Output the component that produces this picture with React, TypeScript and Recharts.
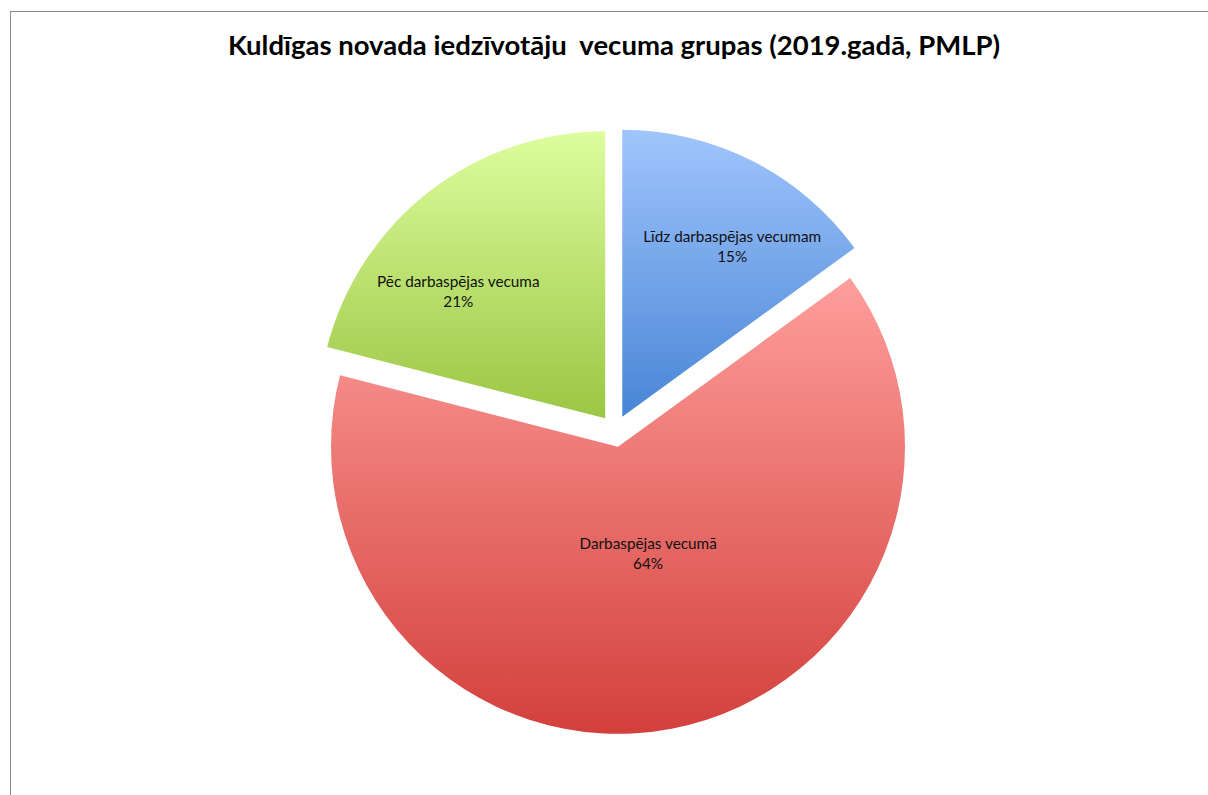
import React from "react";
import { PieChart, Pie, Cell } from "recharts";

// Kuldīgas novada iedzīvotāji pa vecuma grupām, 2019 (PMLP)
const categories = ["Līdz darbaspējas vecumam", "Darbaspējas vecumā", "Pēc darbaspējas vecuma"];
const shares = [15, 64, 21];

const GRADIENTS = [
  { id: "gBlue", top: "#a0c5fc", bottom: "#4885d6" },
  { id: "gRed", top: "#fe9e9b", bottom: "#d3403c" },
  { id: "gGreen", top: "#ddfd9e", bottom: "#9bc643" },
];

// label placement per slice: fraction of radius, angle shift from the slice bisector
const LABEL_POS = [
  { r: 0.705, shift: -5.9 },
  { r: 0.388, shift: 4.9 },
  { r: 0.676, shift: 11.4 },
];

const CX = 615;
const CY = 431;
const R = 287;
const EXPLODE = 16;
const RAD = Math.PI / 180;

const data = categories.map((name, i) => ({ name, value: shares[i] }));
const total = shares.reduce((a, b) => a + b, 0);

// bisector angle of each slice (start at top, clockwise)
const midAngles = shares.map((v, i) => {
  const before = shares.slice(0, i).reduce((a, b) => a + b, 0);
  return 90 - (360 * (before + v / 2)) / total;
});

const FONT = "Lato, 'Open Sans', sans-serif";

export default function App() {
  return (
    <div
      style={{
        position: "absolute",
        left: 0,
        top: 0,
        width: 1208,
        height: 795,
        background: "#fff",
        overflow: "hidden",
      }}
    >
      <div
        style={{
          position: "absolute",
          left: 10,
          top: 11,
          width: 1300,
          height: 900,
          border: "1.5px solid #8c8c8c",
        }}
      />
      <div
        style={{
          position: "absolute",
          left: 0,
          top: 27,
          width: 1228,
          textAlign: "center",
          fontFamily: FONT,
          fontWeight: 700,
          fontSize: 27.5,
          lineHeight: "36px",
          color: "#000",
          whiteSpace: "pre",
        }}
      >
        Kuldīgas novada iedzīvotāju  vecuma grupas (2019.gadā, PMLP)
      </div>
      <div style={{ position: "absolute", left: 0, top: 0 }}>
        <PieChart width={1208} height={795} margin={{ top: 0, right: 0, bottom: 0, left: 0 }}>
          <defs>
            {GRADIENTS.map((g) => (
              <linearGradient key={g.id} id={g.id} x1="0" y1="0" x2="0" y2="1">
                <stop offset="0%" stopColor={g.top} />
                <stop offset="100%" stopColor={g.bottom} />
              </linearGradient>
            ))}
          </defs>
          {data.map((_, k) => {
            const cx = CX + EXPLODE * Math.cos(midAngles[k] * RAD);
            const cy = CY - EXPLODE * Math.sin(midAngles[k] * RAD);
            return (
              <Pie
                key={k}
                data={data}
                dataKey="value"
                nameKey="name"
                cx={cx}
                cy={cy}
                outerRadius={R}
                startAngle={90}
                endAngle={-270}
                isAnimationActive={false}
                labelLine={false}
                stroke="none"
                label={(p: any) => {
                  if (p.index !== k) return null;
                  const pos = LABEL_POS[k];
                  const a = (midAngles[k] + pos.shift) * RAD;
                  const x = cx + R * pos.r * Math.cos(a);
                  const y = cy - R * pos.r * Math.sin(a);
                  return (
                    <text
                      x={x}
                      y={y}
                      textAnchor="middle"
                      fontFamily={FONT}
                      fontSize={15.3}
                      fill="#111"
                    >
                      <tspan x={x} dy="-0.32em">{categories[k]}</tspan>
                      <tspan x={x} dy="1.3em">{shares[k]}%</tspan>
                    </text>
                  );
                }}
              >
                {data.map((_, i) => (
                  <Cell
                    key={i}
                    fill={i === k ? `url(#${GRADIENTS[i].id})` : "none"}
                    stroke="none"
                  />
                ))}
              </Pie>
            );
          })}
        </PieChart>
      </div>
    </div>
  );
}
